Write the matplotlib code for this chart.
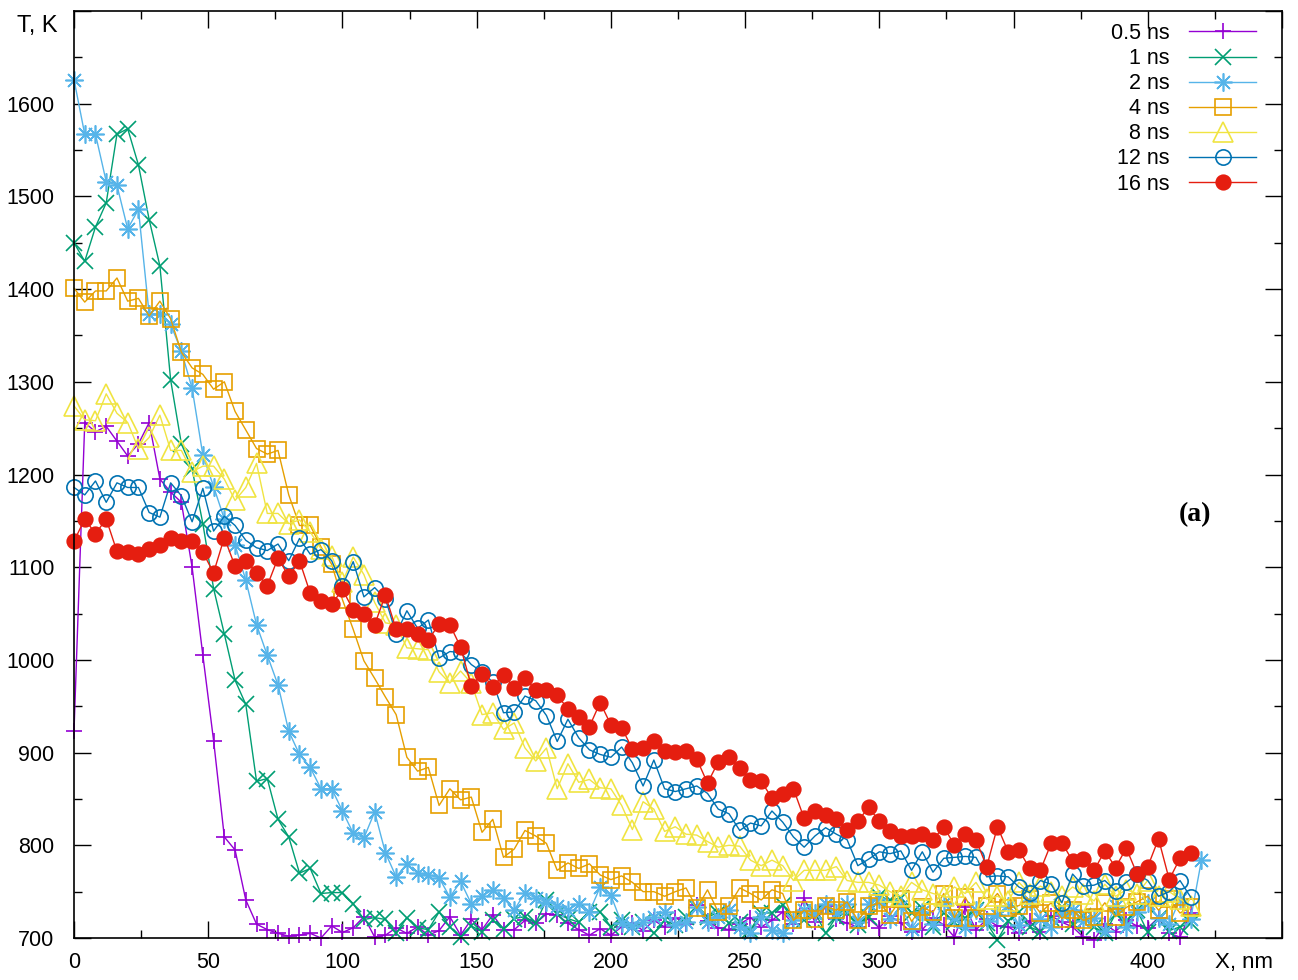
import numpy as np
import matplotlib
matplotlib.use("Agg")
import matplotlib.pyplot as plt
from matplotlib.ticker import MultipleLocator

plt.rcParams['font.family'] = ['Liberation Sans', 'DejaVu Sans']

# temperature profiles T(x) at several times, step 4 nm
X_NM = np.arange(0, 417, 4)
X_NM_2NS = np.arange(0, 421, 4)

T_05NS = [923, 1256, 1246, 1252, 1236, 1220, 1233, 1256, 1195, 1181,
          1170, 1100, 1005, 913, 809, 795, 741, 715, 709, 705,
          702, 703, 705, 700, 713, 706, 711, 723, 701, 703,
          711, 705, 712, 703, 708, 723, 703, 720, 709, 725,
          709, 709, 719, 716, 726, 725, 716, 709, 703, 710,
          703, 712, 716, 708, 719, 712, 722, 715, 736, 718,
          711, 709, 715, 722, 712, 719, 728, 715, 743, 717,
          734, 720, 716, 712, 721, 711, 724, 716, 706, 709,
          722, 714, 701, 733, 709, 720, 713, 712, 705, 718,
          707, 724, 717, 712, 701, 698, 715, 707, 719, 713,
          711, 722, 705, 701, 727]

T_1NS = [1450, 1430, 1467, 1493, 1567, 1573, 1534, 1475, 1425, 1302,
         1233, 1206, 1147, 1077, 1028, 978, 952, 869, 872, 828,
         809, 770, 775, 748, 749, 749, 737, 720, 722, 720,
         705, 722, 711, 709, 728, 712, 701, 713, 707, 719,
         710, 721, 723, 716, 741, 726, 721, 717, 728, 728,
         712, 719, 712, 717, 705, 719, 714, 723, 732, 723,
         727, 716, 717, 709, 727, 727, 736, 719, 719, 728,
         705, 723, 727, 714, 723, 745, 741, 743, 727, 732,
         712, 727, 717, 722, 730, 716, 698, 718, 728, 712,
         707, 722, 733, 715, 724, 712, 705, 726, 718, 730,
         706, 722, 708, 712, 716]

T_2NS = [1626, 1567, 1567, 1516, 1512, 1465, 1486, 1373, 1373, 1362,
         1333, 1293, 1221, 1187, 1152, 1124, 1086, 1038, 1005, 973,
         923, 898, 884, 861, 861, 837, 813, 808, 836, 792,
         766, 780, 770, 768, 765, 744, 761, 737, 745, 752,
         743, 730, 749, 743, 739, 735, 730, 737, 728, 755,
         746, 716, 713, 717, 723, 728, 714, 717, 733, 717,
         723, 730, 712, 705, 723, 709, 705, 719, 730, 727,
         737, 727, 737, 717, 737, 742, 720, 735, 710, 728,
         715, 738, 722, 712, 730, 718, 725, 735, 714, 740,
         720, 712, 726, 730, 718, 722, 708, 735, 712, 728,
         738, 722, 715, 742, 721, 784]

T_4NS = [1401, 1386, 1398, 1398, 1412, 1387, 1390, 1371, 1387, 1368,
         1332, 1315, 1308, 1292, 1300, 1268, 1248, 1228, 1222, 1226,
         1178, 1145, 1145, 1122, 1103, 1065, 1033, 999, 980, 960,
         941, 895, 880, 884, 843, 861, 849, 852, 814, 828,
         787, 796, 816, 810, 802, 773, 781, 775, 780, 768,
         763, 767, 760, 750, 750, 745, 750, 754, 732, 752,
         728, 735, 754, 748, 741, 752, 748, 719, 730, 721,
         734, 730, 739, 719, 734, 738, 725, 742, 718, 733,
         728, 748, 722, 744, 722, 735, 748, 732, 735, 742,
         727, 738, 721, 730, 719, 723, 738, 723, 733, 739,
         745, 730, 742, 727, 733]

T_8NS = [1274, 1259, 1258, 1287, 1266, 1256, 1228, 1240, 1264, 1226,
         1226, 1203, 1209, 1209, 1195, 1172, 1186, 1212, 1158, 1158,
         1147, 1151, 1138, 1120, 1112, 1084, 1111, 1092, 1062, 1040,
         1038, 1013, 1012, 1011, 987, 975, 988, 975, 941, 943,
         925, 932, 905, 891, 905, 861, 888, 868, 871, 862,
         861, 843, 817, 847, 839, 815, 820, 812, 811, 804,
         798, 800, 799, 784, 778, 784, 778, 762, 773, 773,
         773, 777, 762, 760, 760, 757, 750, 745, 760, 752,
         748, 745, 755, 748, 760, 742, 745, 740, 760, 748,
         756, 750, 745, 755, 748, 740, 758, 745, 752, 748,
         762, 745, 750, 742, 735]

T_12NS = [1186, 1178, 1193, 1170, 1191, 1186, 1186, 1159, 1154, 1191,
          1177, 1149, 1185, 1139, 1155, 1145, 1129, 1121, 1118, 1125,
          1107, 1131, 1114, 1119, 1107, 1080, 1106, 1068, 1078, 1066,
          1028, 1053, 1034, 1043, 1002, 1009, 1008, 995, 987, 976,
          943, 944, 961, 956, 940, 912, 936, 916, 903, 898,
          895, 906, 889, 864, 892, 861, 858, 861, 864, 856,
          839, 834, 816, 824, 821, 837, 825, 809, 798, 810,
          819, 812, 806, 778, 785, 793, 791, 794, 773, 793,
          771, 786, 787, 788, 787, 766, 767, 766, 755, 749,
          762, 758, 738, 769, 756, 757, 762, 751, 760, 769,
          762, 745, 750, 762, 744]

T_16NS = [1128, 1152, 1136, 1152, 1117, 1116, 1114, 1120, 1124, 1132,
          1128, 1128, 1116, 1094, 1132, 1101, 1107, 1094, 1080, 1110,
          1090, 1107, 1072, 1063, 1060, 1076, 1054, 1050, 1038, 1070,
          1033, 1033, 1028, 1021, 1039, 1038, 1014, 972, 985, 971,
          984, 970, 981, 967, 968, 962, 947, 938, 928, 954,
          930, 927, 904, 905, 912, 902, 901, 902, 893, 867,
          890, 895, 883, 870, 869, 851, 855, 861, 829, 837,
          833, 828, 817, 826, 841, 826, 815, 810, 810, 812,
          806, 820, 800, 812, 806, 777, 820, 793, 795, 775,
          773, 802, 803, 783, 785, 773, 794, 776, 797, 769,
          777, 807, 763, 786, 792]

LABELS = ['0.5 ns', '1 ns', '2 ns', '4 ns', '8 ns', '12 ns', '16 ns']
COLORS = ['#9400d3', '#009e73', '#56b4e9', '#e69f00', '#f0e442', '#0072b2', '#e51e10']

series = [(X_NM, T_05NS), (X_NM, T_1NS), (X_NM_2NS, T_2NS), (X_NM, T_4NS),
          (X_NM, T_8NS), (X_NM, T_12NS), (X_NM, T_16NS)]
styles = [dict(marker='+', ms=11),
          dict(marker='x', ms=12),
          dict(marker=(8, 2, 0), ms=13),
          dict(marker='s', ms=11, mfc='none'),
          dict(marker='^', ms=14, mfc='none'),
          dict(marker='o', ms=11, mfc='none'),
          dict(marker='o', ms=10.5)]

fig = plt.figure(figsize=(12.98, 9.80), dpi=100)
ax = fig.add_axes([74 / 1298, 42 / 980, 1208 / 1298, 927 / 980])

for (x, t), label, color, st in zip(series, LABELS, COLORS, styles):
    ax.plot(x, t, color=color, lw=1.0, mew=1.2, label=label, clip_on=False, **st)

ax.set_xlim(0, 450)
ax.set_ylim(700, 1700)

ax.xaxis.set_minor_locator(MultipleLocator(25))
ax.yaxis.set_minor_locator(MultipleLocator(50))
ax.set_xticks(np.arange(0, 451, 50))
ax.set_xticklabels([str(v) for v in range(0, 401, 50)] + [''])
ax.set_yticks(np.arange(700, 1701, 100))
ax.set_yticklabels([str(v) for v in range(700, 1601, 100)] + [''])

ax.tick_params(which='both', direction='in', top=True, right=True, width=1, labelsize=15.5)
ax.tick_params(which='major', length=12)
ax.tick_params(which='minor', length=6)
ax.tick_params(axis='y', pad=14)
ax.tick_params(axis='x', pad=10)
for sp in ax.spines.values():
    sp.set_linewidth(1.2)

ax.text(-0.014, 1684, 'T, K', transform=ax.get_yaxis_transform(),
        ha='right', va='center', fontsize=17)
ax.text(436, -0.026, 'X, nm', transform=ax.get_xaxis_transform(),
        ha='center', va='center', fontsize=16)
ax.text(417.5, 1157, '(a)', ha='center', va='center', fontsize=20,
        fontweight='bold', family='Liberation Serif')

ax.legend(loc='upper right', bbox_to_anchor=(1256 / 1298, 957 / 980),
          bbox_transform=fig.transFigure, frameon=False, markerfirst=False,
          numpoints=1, fontsize=15.5, handlelength=3.1, handletextpad=0.9,
          labelspacing=0.19, borderpad=0, borderaxespad=0)

fig.savefig('out.png', dpi=100)
